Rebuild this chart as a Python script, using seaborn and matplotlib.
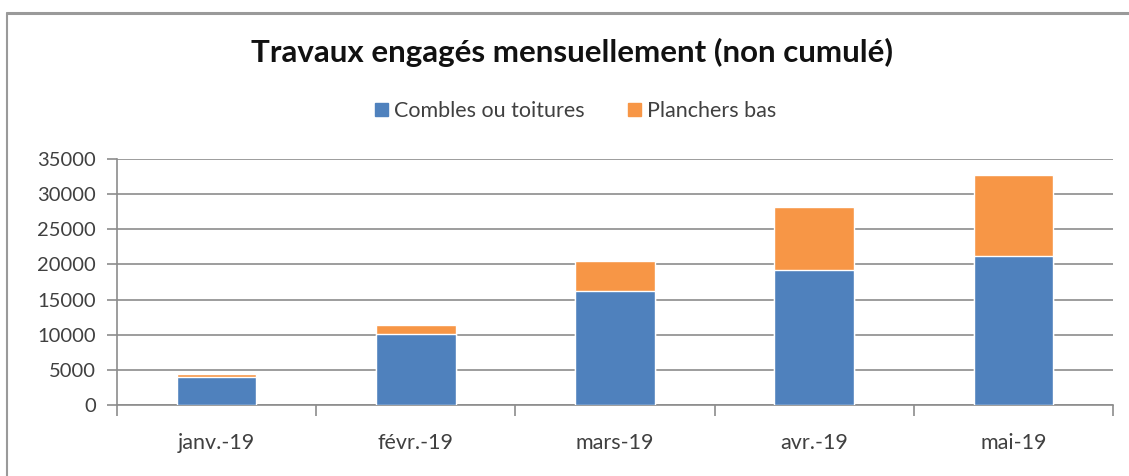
import matplotlib
matplotlib.use("Agg")
import matplotlib.pyplot as plt
from matplotlib.lines import Line2D
from matplotlib.patches import Patch
import numpy as np
import pandas as pd
import seaborn as sns

# data
mois = ["janv.-19", "févr.-19", "mars-19", "avr.-19", "mai-19"]
combles = [3950, 10050, 16150, 19250, 21200]
planchers = [450, 1350, 4400, 8850, 11500]

series_names = ["Combles ou toitures", "Planchers bas"]
bleu = "#4F81BD"
orange = "#F79646"

sns.set_style("white")
plt.rcParams["font.family"] = ["Lato", "DejaVu Sans"]

df = pd.DataFrame({"mois": mois, "combles": combles, "planchers": planchers})
df["total"] = df["combles"] + df["planchers"]

fig = plt.figure(figsize=(11.29, 4.76), dpi=100)
ax = fig.add_axes([117 / 1129, 1 - 405 / 476, (1113 - 117) / 1129, (405 - 159) / 476])

# stacked bars: total first (orange) then the bottom part (blue) on top of it
sns.barplot(data=df, x="mois", y="total", color=orange, width=0.4,
            saturation=1, ax=ax, zorder=2)
sns.barplot(data=df, x="mois", y="combles", color=bleu, width=0.4,
            saturation=1, ax=ax, zorder=3)

ax.set_ylim(0, 35000)
ax.set_xlim(-0.5, len(mois) - 0.5)
ax.set_yticks(np.arange(0, 35001, 5000))
ax.yaxis.grid(True, color="#8c8c8c", linewidth=1.2, zorder=0)
ax.set_axisbelow(True)
ax.set_xlabel("")
ax.set_ylabel("")

for side in ["top", "right"]:
    ax.spines[side].set_visible(False)
for side in ["left", "bottom"]:
    ax.spines[side].set_color("#8c8c8c")
    ax.spines[side].set_linewidth(1.2)

# Excel-style ticks at the category boundaries
ax.set_xticks(np.arange(-0.5, len(mois) + 0.5, 1), minor=False)
ax.set_xticklabels([""] * (len(mois) + 1))
ax.set_xticks(np.arange(len(mois)), minor=True)
ax.set_xticklabels(mois, minor=True)
ax.tick_params(axis="x", which="major", length=8, width=1.2, color="#8c8c8c", bottom=True)
ax.tick_params(axis="x", which="minor", length=0, pad=20, labelsize=15.5, labelcolor="#404040")
ax.tick_params(axis="y", length=7, width=1.2, color="#8c8c8c", left=True,
               labelsize=14.5, labelcolor="#404040", pad=8)

fig.text(0.507, 1 - 52 / 476, "Travaux engagés mensuellement (non cumulé)",
         ha="center", va="center", fontsize=22.5, fontweight="bold", color="#111111")

handles = [Patch(color=bleu, label=series_names[0]), Patch(color=orange, label=series_names[1])]
fig.legend(handles=handles, loc="center", bbox_to_anchor=(0.51, 1 - 111 / 476), ncol=2,
           frameon=False, fontsize=15.5, handlelength=0.6, handleheight=0.6,
           handletextpad=0.3, columnspacing=2.0, labelcolor="#404040")

# chart border seen in the screenshot
fig.add_artist(Line2D([7 / 1129, 1], [1 - 13 / 476, 1 - 13 / 476], color="#9a9a9a", linewidth=2.2))
fig.add_artist(Line2D([7 / 1129, 7 / 1129], [0, 1 - 13 / 476], color="#9a9a9a", linewidth=1.5))

fig.savefig("out.png", dpi=100, facecolor="white")
